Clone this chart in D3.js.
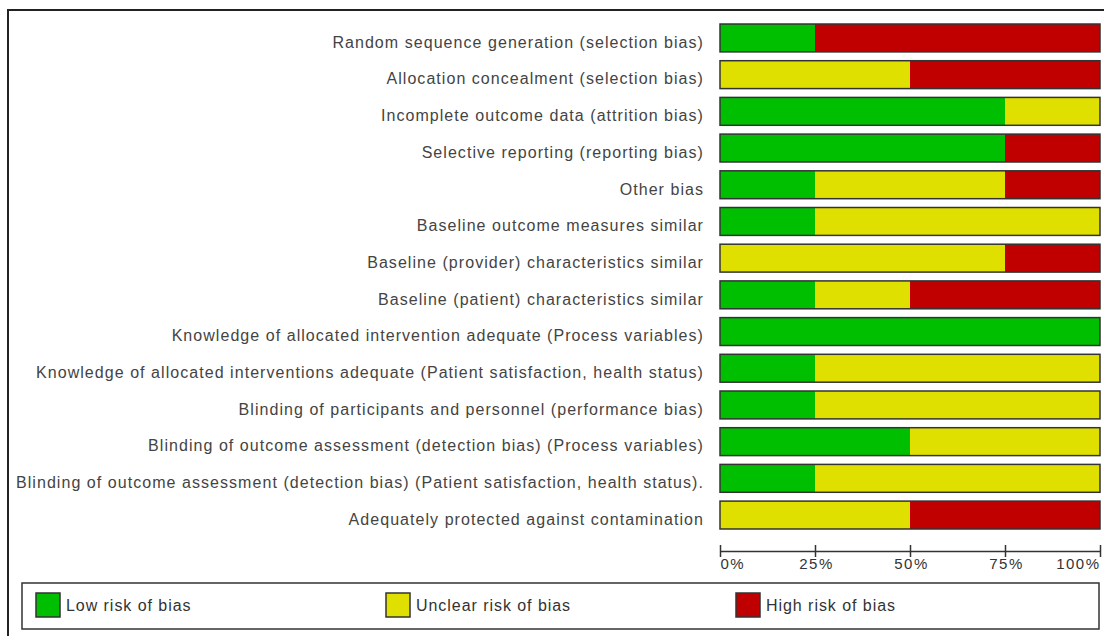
<!DOCTYPE html>
<html>
<head>
	<meta charset="UTF-8">
	<script src="https://d3js.org/d3.v7.min.js"></script>
	<style>
		body { margin: 0; background: #fff; }
		svg { display: block; }
		text { font-family: "Liberation Sans", Arial, sans-serif; }
	</style>
</head>
<body>
	<svg></svg>
	<script type="text/javascript">
		const width = 1104;
		const height = 636;

		const domains = [
			"Random sequence generation (selection bias)",
			"Allocation concealment (selection bias)",
			"Incomplete outcome data (attrition bias)",
			"Selective reporting (reporting bias)",
			"Other bias",
			"Baseline outcome measures similar",
			"Baseline (provider) characteristics similar",
			"Baseline (patient) characteristics similar",
			"Knowledge of allocated intervention adequate (Process variables)",
			"Knowledge of allocated interventions adequate (Patient satisfaction, health status)",
			"Blinding of participants and personnel (performance bias)",
			"Blinding of outcome assessment (detection bias) (Process variables)",
			"Blinding of outcome assessment (detection bias) (Patient satisfaction, health status).",
			"Adequately protected against contamination"
		];
		// percent of studies per judgement
		const lowRisk     = [25, 0, 75, 75, 25, 25, 0, 25, 100, 25, 25, 50, 25, 0];
		const unclearRisk = [0, 50, 25, 0, 50, 75, 75, 25, 0, 75, 75, 50, 75, 50];
		const highRisk    = [75, 50, 0, 25, 25, 0, 25, 50, 0, 0, 0, 0, 0, 50];

		const seriesNames = ["Low risk of bias", "Unclear risk of bias", "High risk of bias"];
		const seriesColors = ["#00bf00", "#e0e000", "#c00000"];
		const tickValues = [0, 25, 50, 75, 100];

		const rows = domains.map((name, i) => ({
			name: name,
			low: lowRisk[i],
			unclear: unclearRisk[i],
			high: highRisk[i]
		}));

		const stack = d3.stack().keys(["low", "unclear", "high"])(rows);

		const x = d3.scaleLinear()
			.domain([0, 100])
			.range([720, 1100]);

		const y = d3.scaleBand()
			.domain(domains)
			.range([15.2, 537.8])
			.padding(0.24);

		const svg = d3.select("svg")
			.attr("width", width)
			.attr("height", height)
			.attr("viewBox", [0, 0, width, height]);

		// outer frame
		svg.append("rect")
			.attr("x", 8)
			.attr("y", 10)
			.attr("width", 1200)
			.attr("height", 800)
			.attr("fill", "none")
			.attr("stroke", "#222")
			.attr("stroke-width", 2);

		// labels
		svg.append("g")
			.selectAll("text")
			.data(domains)
			.join("text")
			.attr("x", 704)
			.attr("y", d => y(d) + y.bandwidth() / 2 + 4)
			.attr("dy", "0.36em")
			.attr("text-anchor", "end")
			.attr("font-size", 16)
			.attr("letter-spacing", 1.05)
			.attr("fill", "#444")
			.text(d => d);

		// stacked segments
		svg.append("g")
			.selectAll("g")
			.data(stack)
			.join("g")
			.attr("fill", (d, i) => seriesColors[i])
			.selectAll("rect")
			.data(d => d.filter(s => s[1] > s[0]))
			.join("rect")
			.attr("x", d => x(d[0]))
			.attr("y", d => y(d.data.name))
			.attr("width", d => x(d[1]) - x(d[0]))
			.attr("height", y.bandwidth());

		// bar outlines
		svg.append("g")
			.selectAll("rect")
			.data(domains)
			.join("rect")
			.attr("x", x(0))
			.attr("y", d => y(d))
			.attr("width", x(100) - x(0))
			.attr("height", y.bandwidth())
			.attr("fill", "none")
			.attr("stroke", "#333")
			.attr("stroke-width", 1.5);

		// axis
		svg.append("g")
			.attr("transform", "translate(0,551)")
			.call(d3.axisBottom(x).tickValues(tickValues).tickSizeOuter(0).tickFormat(d => d + "%"))
			.call(g => g.select(".domain").attr("stroke", "#333").attr("stroke-width", 1.5))
			.call(g => g.selectAll(".tick line").attr("y1", -6).attr("y2", 6).attr("stroke", "#333").attr("stroke-width", 1.5))
			.call(g => g.selectAll(".tick text")
				.attr("y", 7)
				.attr("dy", "0.71em")
				.attr("font-family", "\"DejaVu Sans\", sans-serif")
				.attr("font-size", 15)
				.attr("letter-spacing", 1.5)
				.attr("fill", "#333")
				.attr("text-anchor", d => d === 0 ? "start" : d === 100 ? "end" : "middle")
				.attr("dx", d => d === 0 ? 0 : d === 100 ? 0 : 1));

		// legend
		svg.append("rect")
			.attr("x", 22)
			.attr("y", 583)
			.attr("width", 1077)
			.attr("height", 46)
			.attr("fill", "none")
			.attr("stroke", "#333")
			.attr("stroke-width", 1.5);

		const legendX = [36, 386, 736];
		const legend = svg.append("g")
			.selectAll("g")
			.data(seriesNames)
			.join("g")
			.attr("transform", (d, i) => `translate(${legendX[i]},593)`);

		legend.append("rect")
			.attr("width", 24)
			.attr("height", 24)
			.attr("fill", (d, i) => seriesColors[i])
			.attr("stroke", "#333")
			.attr("stroke-width", 1.5);

		legend.append("text")
			.attr("x", 30)
			.attr("y", 12)
			.attr("dy", "0.36em")
			.attr("font-size", 16)
			.attr("letter-spacing", 0.95)
			.attr("fill", "#333")
			.text(d => d);
	</script>
</body>
</html>
